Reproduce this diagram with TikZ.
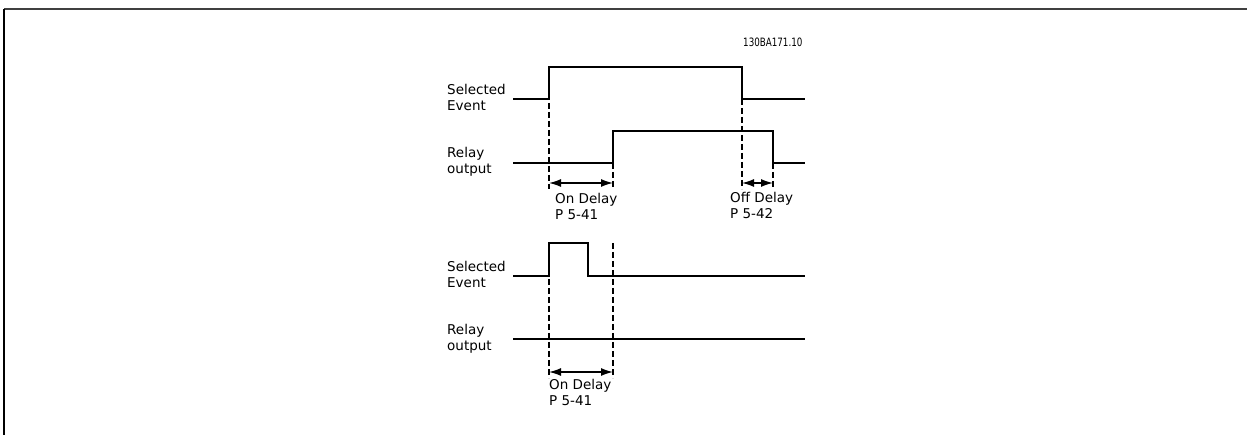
\documentclass[tikz,border=0pt]{standalone}
\usepackage{fontspec}
\setmainfont{DejaVu Sans}
\usepackage{tikz}
\usetikzlibrary{arrows.meta}

\begin{document}
\begin{tikzpicture}[x=1pt, y=-1pt,
  lbl/.style={anchor=base west, align=left, inner sep=0pt,
              font=\fontsize{13.5}{16}\selectfont},
  tag/.style={anchor=base west, inner sep=0pt,
              font=\fontsize{11.5}{12}\selectfont},
  sig/.style={line width=1.3pt, line join=miter},
  guide/.style={line width=1.1pt, dash pattern=on 6pt off 3pt},
  dly/.style={{Latex[length=12pt,width=8pt]}-{Latex[length=12pt,width=8pt]},
              line width=1.4pt},
]
  \useasboundingbox (0,0) rectangle (1247,435);

  %% frame (top and left edges only)
  \coordinate (fa) at (4,435);
  \coordinate (fb) at (4,9);
  \coordinate (fc) at (1247,9);
  \draw[line width=2pt, black!75] (fb) -- (fc);
  \draw[line width=2pt] (fa) -- (fb);

  \node[tag] (id) at (743,47) {\scalebox{0.76}[1]{130BA171.10}};

  %% Case 1: long event
  \node[lbl] (se1) at (447,111) {Selected\\Event};
  \node[lbl] (ro1) at (447,174) {Relay\\output};

  \coordinate (e1a) at (513,99);  \coordinate (e1b) at (549,99);
  \coordinate (e1c) at (549,67);  \coordinate (e1d) at (742,67);
  \coordinate (e1e) at (742,99);  \coordinate (e1f) at (805,99);
  \draw[sig] (e1a) -- (e1b) -- (e1c) -- (e1d) -- (e1e) -- (e1f);

  \coordinate (r1a) at (513,163); \coordinate (r1b) at (613,163);
  \coordinate (r1c) at (613,131); \coordinate (r1d) at (773,131);
  \coordinate (r1e) at (773,163); \coordinate (r1f) at (805,163);
  \draw[sig] (r1a) -- (r1b) -- (r1c) -- (r1d) -- (r1e) -- (r1f);

  \coordinate (g1a) at (549,189); \coordinate (g1b) at (613,189);
  \coordinate (g1c) at (742,189); \coordinate (g1d) at (773,189);
  \foreach \a/\b in {e1c/g1a, r1b/g1b, e1e/g1c, r1e/g1d}
    \draw[guide] (\a) -- (\b);

  \draw[dly] ([yshift=6pt]g1a) -- ([yshift=6pt]g1b);
  \draw[dly] ([yshift=6pt]g1c) -- ([yshift=6pt]g1d);
  \node[lbl] (on1)  at (555,220) {On Delay\\P 5-41};
  \node[lbl] (off1) at (730,219) {Off Delay\\P 5-42};

  %% Case 2: short event
  \node[lbl] (se2) at (447,288) {Selected\\Event};
  \node[lbl] (ro2) at (447,351) {Relay\\output};

  \coordinate (e2a) at (513,276); \coordinate (e2b) at (549,276);
  \coordinate (e2c) at (549,243); \coordinate (e2d) at (588,243);
  \coordinate (e2e) at (588,276); \coordinate (e2f) at (805,276);
  \draw[sig] (e2a) -- (e2b) -- (e2c) -- (e2d) -- (e2e) -- (e2f);

  \coordinate (r2a) at (513,339); \coordinate (r2f) at (805,339);
  \draw[sig] (r2a) -- (r2f);

  \coordinate (t2) at (613,243);
  \coordinate (g2a) at (549,378); \coordinate (g2b) at (613,378);
  \foreach \a/\b in {e2c/g2a, t2/g2b}
    \draw[guide] (\a) -- (\b);

  \draw[dly] ([yshift=6pt]g2a) -- ([yshift=6pt]g2b);
  \node[lbl] (on2) at (549,405) {On Delay\\P 5-41};
\end{tikzpicture}
\end{document}
